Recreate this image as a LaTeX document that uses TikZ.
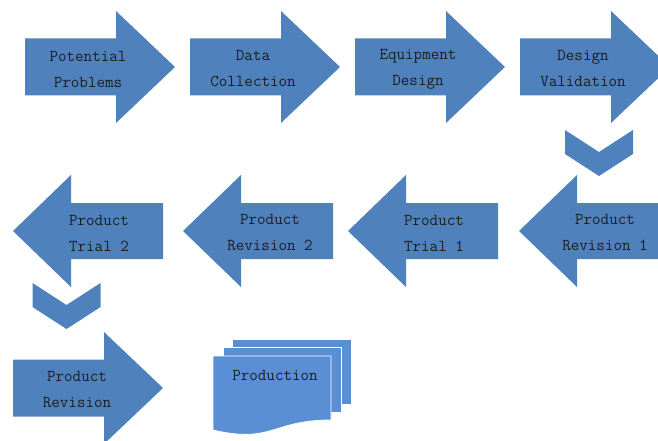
\documentclass[tikz,border=0pt]{standalone}
\usepackage{fontspec}
\definecolor{arrowblue}{HTML}{4F81BD}
\definecolor{docblue}{HTML}{5A8FD6}
\definecolor{textdark}{HTML}{1E1E1E}
\tikzset{
  arrowshape/.style={fill=arrowblue},
  docshape/.style={fill=docblue, draw=white, line width=0.8pt},
  lbl/.style={font=\ttfamily\fontsize{16.6}{26}\selectfont, text=textdark, align=center, inner sep=0pt},
  rarrow/.pic={\fill[arrowshape] (0,-28.5) -- (91,-28.5) -- (91,-56) -- (150,0) -- (91,56) -- (91,28.5) -- (0,28.5) -- cycle;},
  larrow/.pic={\fill[arrowshape] (0,0) -- (58,-56) -- (58,-28) -- (150,-28) -- (150,28) -- (58,28) -- (58,56) -- cycle;},
  chevron/.pic={\fill[arrowshape] (-34,0) -- (0,22) -- (34,0) -- (34,24) -- (0,46) -- (-34,24) -- cycle;}
}
\begin{document}
\begin{tikzpicture}[x=1pt,y=-1pt]
\useasboundingbox (0,0) rectangle (658,441);
\clip (0,0) rectangle (658,441);
% row 1
\pic at (25,67) {rarrow};
\pic at (190,67) {rarrow};
\pic at (355,67) {rarrow};
\pic at (520,67) {rarrow};
\node[lbl] (p1) at (88,69) {Potential\\Problems};
\node[lbl] (p2) at (253,69) {Data\\Collection};
\node[lbl] (p3) at (418,69) {Equipment\\Design};
\node[lbl] (p4) at (583,69) {Design\\Validation};
% chevron 1
\pic at (599,130) {chevron};
% row 2
\pic at (519,231) {larrow};
\pic at (348,231) {larrow};
\pic at (183,231) {larrow};
\pic at (13,231) {larrow};
\node[lbl] (p5) at (605,233) {Product\\Revision 1};
\node[lbl] (p6) at (434,233) {Product\\Trial 1};
\node[lbl] (p7) at (270,233) {Product\\Revision 2};
\node[lbl] (p8) at (99,233) {Product\\Trial 2};
% chevron 2
\pic at (66.5,283) {chevron};
% row 3
\pic at (13,388) {rarrow};
\node[lbl] (p9) at (77,390) {Product\\Revision};
% production multi-document
\path[docshape] (232,339) rectangle (351,404);
\path[docshape] (223,347) rectangle (341,412);
\path[docshape] (213,356) -- (331,356) -- (331,420)
  .. controls (272,420) and (272,444) .. (213,430) -- cycle;
\node[lbl] (p10) at (275,375) {Production};
\end{tikzpicture}
\end{document}
